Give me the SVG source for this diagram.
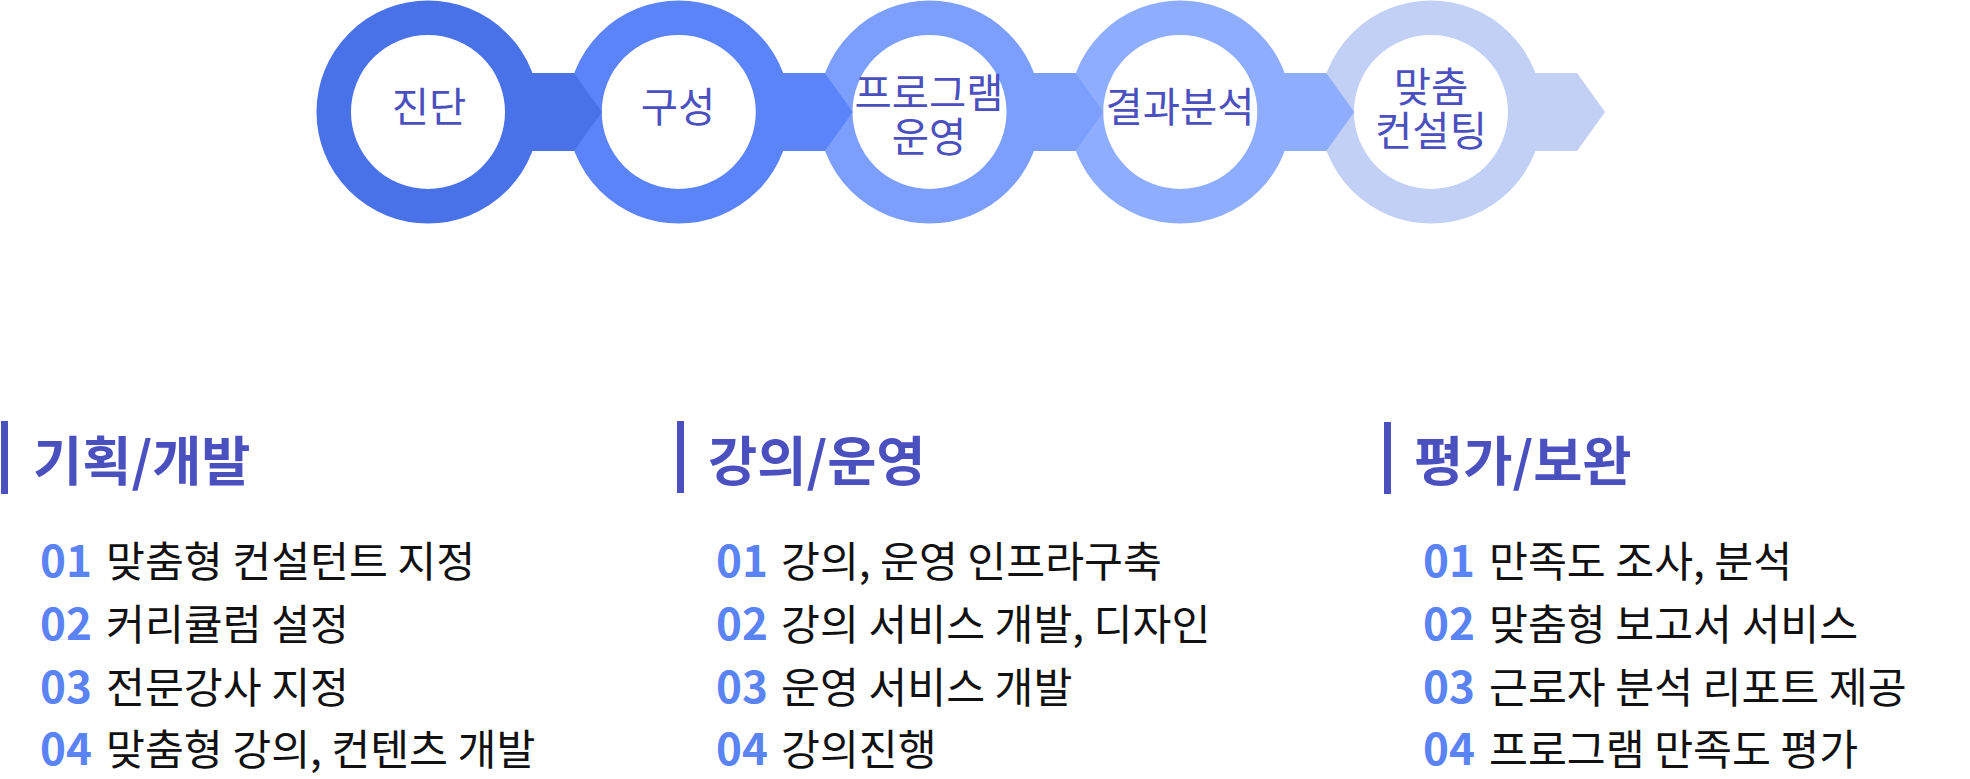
<svg xmlns="http://www.w3.org/2000/svg" width="1970" height="779" viewBox="0 0 1970 779">
<style>
.ring{fill:#ffffff;stroke-width:34.5}
.lbl{font-family:"Noto Sans CJK KR","Noto Sans",sans-serif;font-size:40.5px;fill:#4b50bf;text-anchor:middle}
.head{font-family:"Noto Sans CJK KR","Noto Sans",sans-serif;font-size:53.5px;font-weight:700;fill:#4b50bf}
.num{font-family:"Noto Sans CJK KR","Noto Sans",sans-serif;font-size:44px;font-weight:700;fill:#5a83f5}
.item{font-family:"Noto Sans CJK KR","Noto Sans",sans-serif;font-size:42.3px;fill:#111111}
.bar{fill:#4b50bf}
</style>
<rect width="1970" height="779" fill="#ffffff"/>
<g id="step1"><circle class="ring" cx="428" cy="112" r="94.25" stroke="#4a72e8"/><text class="lbl" x="429" y="122">진단</text></g>
<g id="step2"><circle class="ring" cx="678.75" cy="112" r="94.25" stroke="#5b84fa"/><text class="lbl" x="678" y="122">구성</text></g>
<g id="step3"><circle class="ring" cx="929.5" cy="112" r="94.25" stroke="#7c9ffd"/><text class="lbl" x="929" y="108"><tspan x="929" y="108">프로그램</tspan><tspan x="929" y="152">운영</tspan></text></g>
<g id="step4"><circle class="ring" cx="1180.25" cy="112" r="94.25" stroke="#8fadfe"/><text class="lbl" x="1180" y="122">결과분석</text></g>
<g id="step5"><circle class="ring" cx="1431" cy="112" r="94.25" stroke="#c2d0f6"/><text class="lbl" x="1431" y="102"><tspan x="1431" y="102">맞춤</tspan><tspan x="1431" y="146">컨설팅</tspan></text></g>
<g id="connectors">
<polygon points="523,73 574,73 602,112 574,151 523,151" fill="#4a72e8"/>
<polygon points="773.75,73 824.75,73 852.75,112 824.75,151 773.75,151" fill="#5b84fa"/>
<polygon points="1024.5,73 1075.5,73 1103.5,112 1075.5,151 1024.5,151" fill="#7c9ffd"/>
<polygon points="1275.25,73 1326.25,73 1354.25,112 1326.25,151 1275.25,151" fill="#8fadfe"/>
<polygon points="1526,73 1577,73 1605,112 1577,151 1526,151" fill="#c2d0f6"/>
</g>
<g id="col1">
<rect class="bar" x="1" y="421" width="7" height="73"/>
<text class="head" x="33" y="481">기획/개발</text>
<text class="num" x="40" y="577">01</text><text class="item" x="106" y="577">맞춤형 컨설턴트 지정</text>
<text class="num" x="40" y="640">02</text><text class="item" x="106" y="640">커리큘럼 설정</text>
<text class="num" x="40" y="703">03</text><text class="item" x="106" y="703">전문강사 지정</text>
<text class="num" x="40" y="765">04</text><text class="item" x="106" y="765">맞춤형 강의, 컨텐츠 개발</text>
</g>
<g id="col2">
<rect class="bar" x="677" y="421" width="7" height="72"/>
<text class="head" x="708" y="481">강의/운영</text>
<text class="num" x="716" y="577">01</text><text class="item" x="781" y="577">강의, 운영 인프라구축</text>
<text class="num" x="716" y="640">02</text><text class="item" x="781" y="640">강의 서비스 개발, 디자인</text>
<text class="num" x="716" y="703">03</text><text class="item" x="781" y="703">운영 서비스 개발</text>
<text class="num" x="716" y="765">04</text><text class="item" x="781" y="765">강의진행</text>
</g>
<g id="col3">
<rect class="bar" x="1384" y="422" width="7" height="72"/>
<text class="head" x="1414" y="481">평가/보완</text>
<text class="num" x="1423" y="577">01</text><text class="item" x="1489" y="577">만족도 조사, 분석</text>
<text class="num" x="1423" y="640">02</text><text class="item" x="1489" y="640">맞춤형 보고서 서비스</text>
<text class="num" x="1423" y="703">03</text><text class="item" x="1489" y="703">근로자 분석 리포트 제공</text>
<text class="num" x="1423" y="765">04</text><text class="item" x="1489" y="765">프로그램 만족도 평가</text>
</g>
</svg>
